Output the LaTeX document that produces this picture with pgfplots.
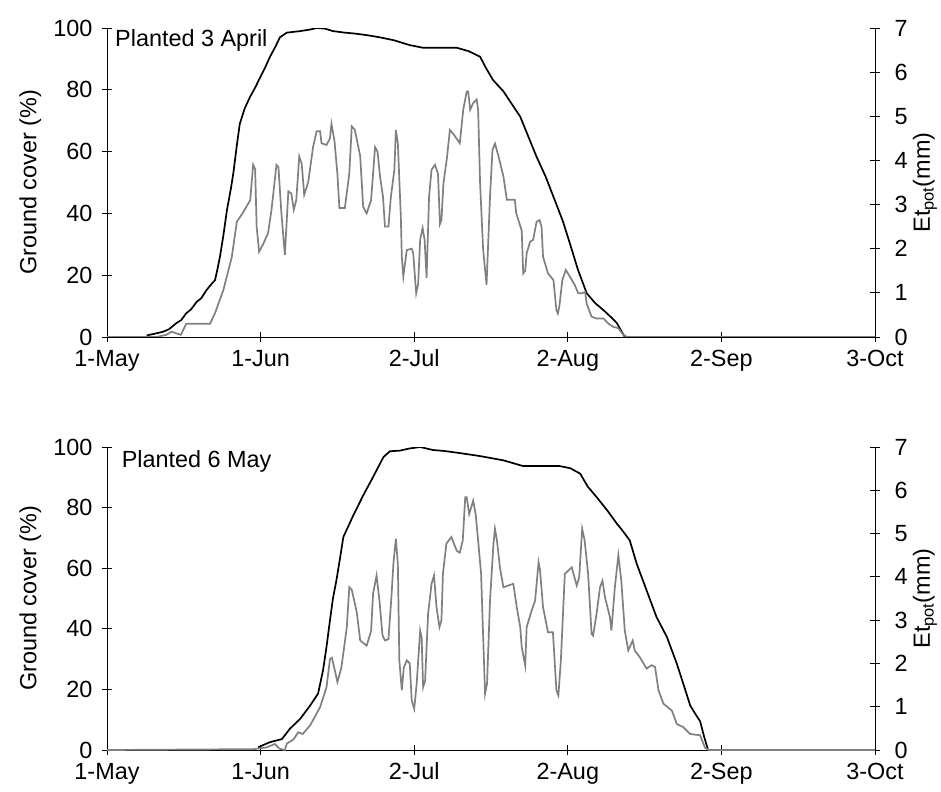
\documentclass[border=0pt]{standalone}
\usepackage{pgfplots}
\pgfplotsset{compat=1.18}
\usepackage{fontspec}
\setmainfont{Liberation Sans}
\newcommand\fs{\fontsize{23.5}{27}\selectfont}
\definecolor{etgrey}{RGB}{128,128,128}
\pgfplotsset{
  base/.style={
    scale only axis, width=768bp, xmin=0, xmax=155,
    tick align=center, major tick length=10bp,
    tick style={black, line width=0.8bp},
    axis line style={black, line width=0.8bp},
    ticklabel style={font=\fs},
    label style={font=\fs},
    /pgf/number format/assume math mode=true,
  },
  leftax/.style={base,
    axis x line*=bottom, axis y line*=left,
    ymin=0, ymax=100, ytick={0,20,40,60,80,100},
    xtick={0,31,62,93,124,155},
    xticklabels={1-May,1-Jun,2-Jul,2-Aug,2-Sep,3-Oct},
    xticklabel style={anchor=north, text height=17bp, text depth=5bp, yshift=-4bp},
    yticklabel style={xshift=-6bp},
    ylabel={Ground cover (\%)},
    ylabel style={at={(axis description cs:-0.100,0.5)}, anchor=center, rotate=0},
  },
  rightax/.style={base,
    axis x line=none, axis y line*=right,
    ymin=0, ymax=7, ytick={0,1,...,7},
    yticklabel style={xshift=11bp},
    ylabel={Et\textsubscript{pot}(mm)},
    ylabel style={at={(axis description cs:1.065,0.5)}, anchor=center, rotate=0},
  },
}
\begin{document}
\begin{tikzpicture}
\path[use as bounding box] (0bp,0bp) rectangle (941bp,-792bp);
% ---------- top panel ----------
\begin{axis}[leftax, at={(107bp,-28bp)}, anchor=north west, height=309bp]
\addplot[black, line width=1.7bp] coordinates {
(8,0.5) (10,1.2) (11.3,1.7) (12.5,2.5) (14,4.5) (15,5.5) (16,7.7) (17,9) (18.1,11.4) (19,12.5)
(20.1,15.2) (21,17) (21.8,18.4) (22.3,22) (22.8,26) (23.5,33) (24.2,41) (25,48) (25.5,53) (26.2,62)
(26.8,69) (27.8,74) (28.9,77.8) (30,81) (30.9,84) (32,87.5) (32.9,90.7) (34,94) (34.9,97) (36.3,98.5)
(39,99) (41,99.5) (42.3,100) (44,99.8) (45.6,99) (48,98.5) (50,98.2) (52.4,97.7) (55,97) (58,96)
(61,94.5) (63.8,93.6) (70.6,93.6) (73,92.5) (75.3,90.7) (76.5,87) (77.9,83.2) (80,79.5) (83.4,71.3) (85,65)
(86.7,58.3) (88.5,52) (90.1,45.4) (92,37.5) (93.4,30.4) (95,22) (96.8,14.2) (98.5,11) (100.2,8.7) (102,6)
(102.9,4.5) (104.5,0)
};
\node[anchor=west, inner sep=0pt, font=\fs] at (rel axis cs:0.0104,0.961) {Planted 3 April};
\end{axis}
\begin{axis}[rightax, at={(107bp,-28bp)}, anchor=north west, height=309bp]
\addplot[etgrey, line width=1.7bp] coordinates {
(0,0) (10,0) (12,0.05) (13,0.12) (14.9,0.05) (16,0.3) (17.8,0.3) (20.8,0.3) (21.8,0.54) (23.5,1.07)
(25.2,1.82) (26.2,2.61) (27.4,2.81) (28.9,3.1) (29.5,3.9) (29.9,3.8) (30.2,2.5) (30.7,1.93) (31.5,2.1) (32.5,2.35)
(33.2,2.88) (34.2,3.9) (34.6,3.85) (35.2,2.8) (35.9,1.86) (36.6,3.3) (37.2,3.25) (37.7,2.88) (38.2,3.1) (38.8,4.09)
(39.3,3.92) (39.8,3.22) (40.6,3.5) (41.6,4.31) (42.3,4.66) (43.0,4.66) (43.3,4.39) (44.3,4.35) (45.0,4.5) (45.3,4.83)
(45.9,4.45) (46.5,3.7) (46.9,2.92) (48.0,2.92) (48.9,3.7) (49.4,4.77) (50.0,4.7) (51.1,4.1) (51.7,2.95) (52.4,2.8)
(53.3,3.1) (54.1,4.3) (54.6,4.2) (55.1,3.64) (55.7,3.18) (56.1,2.5) (56.8,2.5) (57.3,3.18) (58.0,3.79) (58.3,4.69)
(58.7,4.39) (59.3,2.73) (59.5,1.82) (59.8,1.37) (60.5,1.97) (61.5,2.0) (61.8,1.9) (62.4,0.99) (62.8,1.2) (63.2,2.2)
(63.7,2.47) (64.1,2.2) (64.5,1.34) (65.0,3.18) (65.5,3.79) (66.2,3.9) (66.8,3.7) (67.2,2.56) (67.5,2.65) (67.9,3.48)
(68.6,4.05) (69.2,4.69) (69.9,4.6) (71.2,4.39) (71.9,5.15) (72.6,5.56) (72.9,5.56) (73.3,5.15) (73.9,5.3) (74.6,5.38)
(74.9,5.15) (75.3,3.48) (75.9,2.0) (76.6,1.18) (77.3,3.18) (77.8,4.24) (78.3,4.38) (79.0,4.1) (80.0,3.64) (80.7,3.11)
(82.3,3.11) (82.6,2.8) (83.7,2.41) (84.0,1.44) (84.4,1.5) (84.7,1.9) (85.4,2.16) (86.0,2.2) (86.7,2.61) (87.3,2.65)
(87.7,2.5) (88.0,1.82) (89.0,1.44) (90.1,1.29) (90.7,0.61) (91.0,0.53) (91.3,0.7) (91.9,1.29) (92.6,1.52) (93.4,1.37)
(94.4,1.18) (95.1,0.99) (95.8,0.99) (96.5,1.02) (96.8,0.76) (97.8,0.46) (98.8,0.42) (100.2,0.42) (101.2,0.3) (102.2,0.23)
(103.2,0.2) (104.2,0.05) (105,0) (155,0)
};
\end{axis}
% ---------- bottom panel ----------
\begin{axis}[leftax, at={(107bp,-447bp)}, anchor=north west, height=303bp]
\addplot[black, line width=1.7bp] coordinates {
(30.5,0.9) (32.9,2.6) (35.3,3.6) (36.9,7) (39,10.3) (41,14.7) (42.6,18.6) (43.6,26.3) (44.3,34) (45,42.8)
(45.6,50) (46.3,56) (47,63) (47.7,70.3) (49.7,77.4) (51.7,84) (53.7,90.1) (55.8,96.7) (57.1,98.6) (59.1,98.8)
(61,99.5) (63.2,100) (65.8,99) (68,98.7) (71.2,98) (75.3,97) (80,95.6) (84,93.7) (91.4,93.7) (93.5,93)
(95.5,91.2) (97,87) (98.8,83.5) (101,79) (102.9,74.7) (104,72.5) (105.5,69.2) (106.9,61.5) (108.9,52.7) (110.9,43.9)
(113,37.3) (115,28.5) (116.3,21.9) (117.7,14.7) (118.7,12) (119.7,9.5) (120.5,4.5) (121.3,0)
};
\node[anchor=west, inner sep=0pt, font=\fs] at (rel axis cs:0.019,0.951) {Planted 6 May};
\end{axis}
\begin{axis}[rightax, at={(107bp,-447bp)}, anchor=north west, height=303bp]
\addplot[etgrey, line width=1.7bp] coordinates {
(0,0) (29.6,0.02) (32.2,0.06) (33.9,0.14) (34.8,0.03) (35.9,0) (36.3,0.15) (37.6,0.24) (38.6,0.41) (39.5,0.37)
(41,0.57) (43,0.99) (44.3,1.45) (45,2.1) (45.4,2.13) (46,1.83) (46.5,1.57) (47.3,1.9) (48.4,2.84) (48.9,3.76)
(49.4,3.7) (50.4,3.19) (51.1,2.53) (52.4,2.41) (53.3,2.75) (53.7,3.61) (54.4,4.03) (55.0,3.44) (55.6,2.65) (56.1,2.53)
(56.8,2.56) (57.4,3.53) (57.8,4.3) (58.3,4.88) (58.7,4.3) (59.0,2.07) (59.5,1.38) (59.9,1.9) (60.5,2.07) (61.1,2.0)
(61.5,1.14) (62.0,0.95) (62.5,1.53) (63.2,2.76) (63.5,2.6) (63.8,1.45) (64.2,1.6) (64.8,3.14) (65.5,3.84) (66.0,4.03)
(66.5,3.3) (67.1,2.84) (67.5,3.0) (67.8,4.07) (68.5,4.77) (69.5,4.92) (70.6,4.6) (71.2,4.56) (71.8,4.84) (72.3,5.84)
(72.6,5.84) (73.1,5.45) (73.9,5.76) (74.4,5.45) (74.9,4.84) (75.5,4.07) (75.9,2.68) (76.3,1.3) (76.7,1.53) (77.3,3.45)
(78.0,4.77) (78.3,5.11) (78.7,4.84) (79.3,4.22) (80.0,3.76) (81.0,3.8) (82.0,3.84) (82.7,3.3) (83.4,2.84) (83.7,2.38)
(84.4,1.95) (84.7,2.84) (85.7,3.22) (86.4,3.45) (87.1,4.34) (87.4,4.15) (88.0,3.3) (89.0,2.72) (90.0,2.72) (90.7,1.38)
(91.1,1.26) (91.6,2.07) (92.4,4.07) (93.8,4.22) (94.8,3.8) (95.3,3.99) (95.9,5.11) (96.4,4.84) (97.1,4.07) (97.8,2.68)
(98.1,2.64) (98.8,3.14) (99.5,3.76) (100.0,3.91) (100.5,3.53) (101.5,3.07) (101.8,2.76) (102.5,3.76) (103.2,4.5) (103.8,3.91)
(104.5,2.76) (105.2,2.3) (106.1,2.53) (106.5,2.3) (107.5,2.15) (108.9,1.88) (109.9,1.96) (110.6,1.92) (111.3,1.38) (112.3,1.07)
(114.0,0.91) (115.0,0.6) (116.3,0.53) (117.7,0.37) (119.7,0.34) (120.7,0.05) (121.5,0) (155,0)
};
\end{axis}
\end{tikzpicture}
\end{document}
